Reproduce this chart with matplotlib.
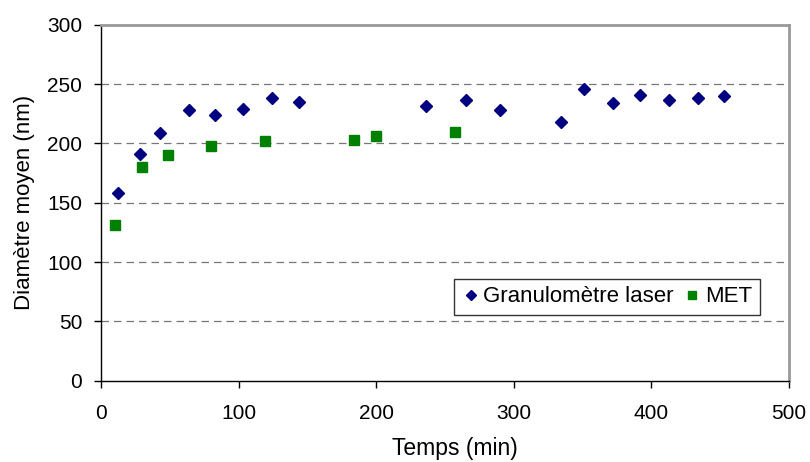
import matplotlib
matplotlib.use("Agg")
import matplotlib.pyplot as plt

# Data
laser_t = [12, 28, 43, 64, 83, 103, 124, 144, 236, 265, 290, 334, 351, 372, 392, 413, 434, 453]
laser_d = [158, 191, 209, 228, 224, 229, 238, 235, 232, 237, 228, 218, 246, 234, 241, 237, 238, 240]
met_t = [10, 30, 49, 80, 119, 184, 200, 257]
met_d = [131, 180, 190, 198, 202, 203, 206, 210]
xticks = [0, 100, 200, 300, 400, 500]
yticks = [0, 50, 100, 150, 200, 250, 300]

plt.rcParams['font.family'] = ['Liberation Sans', 'DejaVu Sans']

fig = plt.figure(figsize=(8.1, 4.62), dpi=100)
ax = fig.add_axes([0.1247, 0.1764, 0.974 - 0.1247, 0.9459 - 0.1764])

for y in yticks[1:-1]:
    ax.axhline(y, color='#777777', linestyle=(0, (6, 4)), linewidth=0.9, zorder=1)

ax.plot(laser_t, laser_d, linestyle='none', marker='D', markersize=6.2,
        color='#000080', label='Granulomètre laser', zorder=3)
ax.plot(met_t, met_d, linestyle='none', marker='s', markersize=7.2,
        color='#008000', label='MET', zorder=3)

ax.set_xlim(0, 500)
ax.set_ylim(0, 300)
ax.set_xticks(xticks)
ax.set_yticks(yticks)
ax.tick_params(axis='both', direction='out', length=5, width=1, labelsize=15, colors='black')
ax.tick_params(axis='x', pad=12)
ax.tick_params(axis='y', pad=8.5)

ax.spines['left'].set_color('black')
ax.spines['bottom'].set_color('black')
ax.spines['left'].set_linewidth(1.0)
ax.spines['bottom'].set_linewidth(1.0)
ax.spines['top'].set_color('#999999')
ax.spines['right'].set_color('#999999')
ax.spines['top'].set_linewidth(2)
ax.spines['right'].set_linewidth(2)

ax.set_xlabel('Temps (min)', fontsize=16.5)
ax.set_ylabel('Diamètre moyen (nm)', fontsize=16)
ax.xaxis.set_label_coords(0.514, -0.159)
ax.yaxis.set_label_coords(-0.096, 0.5)

leg = ax.legend(loc='lower left', bbox_to_anchor=(0.513, 0.184), borderaxespad=0,
                ncol=2, fontsize=16, frameon=True, fancybox=False, handlelength=0.8,
                handletextpad=0.15, columnspacing=0.46, markerscale=0.75,
                borderpad=0.35)
leg.get_frame().set_edgecolor('black')
leg.get_frame().set_linewidth(1.0)

fig.savefig('out.png', dpi=100)
